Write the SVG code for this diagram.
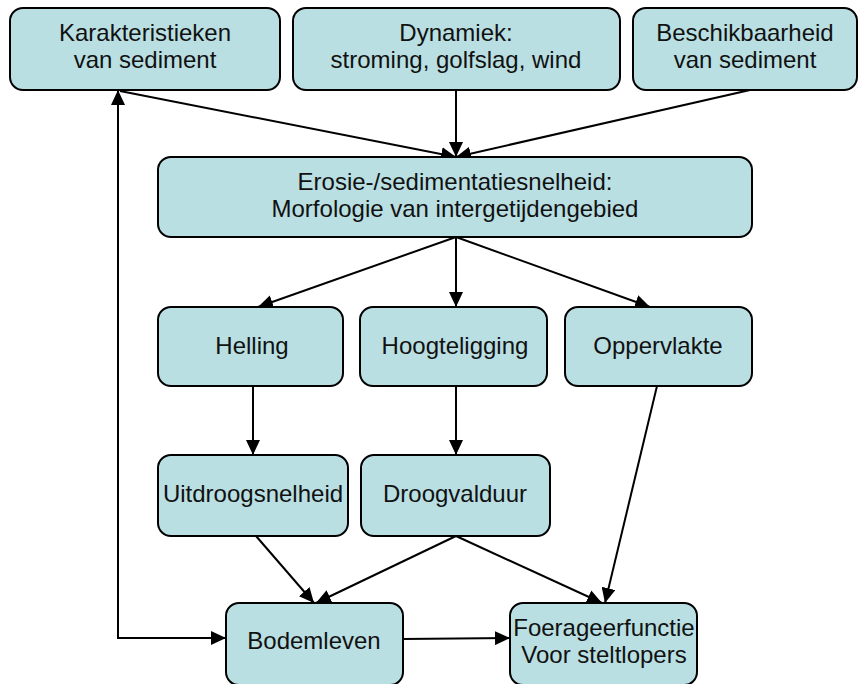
<svg xmlns="http://www.w3.org/2000/svg" width="866" height="684" viewBox="0 0 866 684">
<defs>
<marker id="ah" markerUnits="userSpaceOnUse" markerWidth="16" markerHeight="14" refX="15" refY="7" orient="auto"><path d="M0,0 L15,7 L0,14 Z" fill="#000"/></marker>
<style>
.n rect{fill:#b9dfe3;stroke:#000;stroke-width:2}
.n text{font-family:"Liberation Sans",Arial,sans-serif;font-size:24px;fill:#111;text-anchor:middle}
#edges line,#edges polyline{stroke:#000;stroke-width:2;fill:none;marker-end:url(#ah)}
</style>
</defs>
<rect width="866" height="684" fill="#fff"/>
<g id="edges">
<line x1="120" y1="91" x2="456" y2="157"/>
<line x1="456" y1="90" x2="456" y2="157"/>
<line x1="750" y1="90" x2="456" y2="157"/>
<line x1="456" y1="237" x2="258" y2="307"/>
<line x1="456" y1="237" x2="456" y2="307"/>
<line x1="456" y1="237" x2="650" y2="307"/>
<line x1="253" y1="386" x2="253" y2="455"/>
<line x1="456" y1="386" x2="456" y2="455"/>
<line x1="657" y1="386" x2="605" y2="603"/>
<line x1="256" y1="536" x2="314" y2="603"/>
<line x1="456" y1="536" x2="316" y2="603"/>
<line x1="456" y1="536" x2="602" y2="603"/>
<line x1="403" y1="639" x2="510" y2="638"/>
<polyline points="118,300 118,638 226,638"/>
<line x1="118" y1="300" x2="118" y2="90"/>
</g>
<g id="n1" class="n"><rect x="10" y="8" width="270" height="82" rx="13"/><text x="145" y="41">Karakteristieken</text><text x="145" y="68">van sediment</text></g>
<g id="n2" class="n"><rect x="293" y="8" width="327" height="82" rx="13"/><text x="456" y="41">Dynamiek:</text><text x="456" y="68">stroming, golfslag, wind</text></g>
<g id="n3" class="n"><rect x="633" y="8" width="224" height="82" rx="13"/><text x="745" y="41">Beschikbaarheid</text><text x="745" y="68">van sediment</text></g>
<g id="n4" class="n"><rect x="158" y="157" width="594" height="80" rx="13"/><text x="455" y="190">Erosie-/sedimentatiesnelheid:</text><text x="455" y="217">Morfologie van intergetijdengebied</text></g>
<g id="n5" class="n"><rect x="158" y="307" width="185" height="79" rx="13"/><text x="252" y="354">Helling</text></g>
<g id="n6" class="n"><rect x="360" y="307" width="187" height="79" rx="13"/><text x="455" y="354">Hoogteligging</text></g>
<g id="n7" class="n"><rect x="565" y="307" width="187" height="79" rx="13"/><text x="658" y="354">Oppervlakte</text></g>
<g id="n8" class="n"><rect x="158" y="455" width="190" height="81" rx="13"/><text x="253" y="502">Uitdroogsnelheid</text></g>
<g id="n9" class="n"><rect x="361" y="455" width="189" height="81" rx="13"/><text x="455" y="502">Droogvalduur</text></g>
<g id="n10" class="n"><rect x="226" y="603" width="177" height="82" rx="13"/><text x="314" y="649">Bodemleven</text></g>
<g id="n11" class="n"><rect x="510" y="603" width="187" height="82" rx="13"/><text x="604" y="636">Foerageerfunctie</text><text x="604" y="663">Voor steltlopers</text></g>
</svg>
